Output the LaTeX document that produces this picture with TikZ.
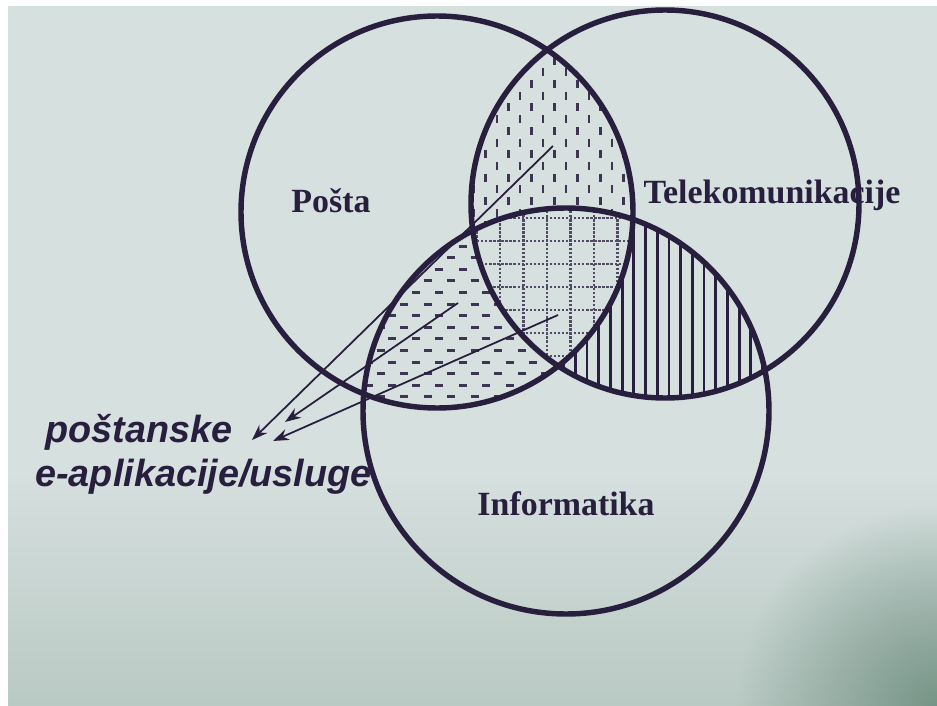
\documentclass[tikz,border=0pt]{standalone}
\usepackage{fontspec}
\setmainfont{Liberation Serif}
\setsansfont{Liberation Sans}
\usetikzlibrary{arrows.meta,fadings}
\definecolor{ink}{HTML}{281E3E}
\definecolor{paper}{HTML}{D6E0DF}
\definecolor{paperlow}{HTML}{B9C9C3}
\definecolor{paperdark}{HTML}{6A8B7C}
\tikzfading[name=darkcorner, inner color=transparent!15, outer color=transparent!100]
% the three sets
\def\posta{(437,212) circle (196)}
\def\tele{(665,204) circle (194)}
\def\info{(566,411) circle (203)}
\tikzset{
  venn/.style={draw=ink, line width=3.1pt},
  vstroke/.style={ink!90, line width=1.7pt},
  hstroke/.style={ink!90, line width=1.7pt},
  gridline/.style={ink!80, line width=1.3pt, densely dotted},
  hatch/.style={ink, line width=1.6pt},
  lbl/.style={font=\fontsize{19.3}{22}\selectfont\bfseries, text=ink, inner sep=0pt},
  note/.style={font=\fontsize{21.5}{25}\selectfont\sffamily\bfseries\itshape, text=ink, inner sep=0pt},
  pointer/.style={ink, line width=1pt, -{Stealth[length=9pt,width=6.5pt]}}
}
\begin{document}
\begin{tikzpicture}[x=0.02cm,y=-0.02cm]
    \useasboundingbox (0,0) rectangle (937,706);
    \fill[white] (0,0) rectangle (937,706);
    \fill[paper] (8,6) rectangle (937,706);
    \shade[top color=paper, bottom color=paperlow] (8,470) rectangle (937,706);
    \begin{scope}
        \clip (8,6) rectangle (937,706);
        \fill[paperdark, path fading=darkcorner] (937,706) circle (200);
    \end{scope}
    %Posta and telekomunikacije: short vertical strokes
    \begin{scope}
        \clip \posta; \clip \tele;
        \foreach \r in {0,...,16}
            \foreach \c in {0,...,9}
                \draw[vstroke] ({451+\c*23-mod(\r,2)*11.5},{45+\r*11.7}) -- ++(0,8);
    \end{scope}
    %Posta and informatika: short horizontal strokes
    \begin{scope}
        \clip \posta; \clip \info;
        \foreach \r in {0,...,15}
            \foreach \c in {0,...,10}
                \draw[hstroke] ({353+\c*23.5+mod(\r,2)*11.75},{234.5+\r*11.6}) -- ++(8,0);
    \end{scope}
    %Telekomunikacije and informatika: vertical lines
    \begin{scope}
        \clip \tele; \clip \info;
        \foreach \k in {-3,...,17}
            \draw[hatch] ({587+\k*11.7},200) -- ({587+\k*11.7},410);
    \end{scope}
    %all three: dotted grid
    \begin{scope}
        \clip \posta; \clip \tele; \clip \info;
        \fill[paper] (460,190) rectangle (660,390);
        \foreach \k in {-1,...,6}
            \draw[gridline] ({500+\k*23.5},195) -- ({500+\k*23.5},380);
        \foreach \k in {-1,...,7}
            \draw[gridline] (465,{218+\k*23}) -- (655,{218+\k*23});
    \end{scope}
    \node[lbl, anchor=base] (postaLbl) at (331,213) {Pošta};
    \node[lbl, anchor=base] (teleLbl) at (772,203) {Telekomunikacije};
    \node[lbl, anchor=base] (infoLbl) at (566,515) {Informatika};
    \node[note, anchor=base west] (postanske) at (45,442) {poštanske};
    \node[note, anchor=base west] (usluge) at (35,486) {e-aplikacije/usluge};
    \draw[venn] \posta;
    \draw[venn] \tele;
    \draw[venn] \info;
    \coordinate (ptSrc) at (553,146);
    \coordinate (piSrc) at (458,303);
    \coordinate (ptiSrc) at (558,315);
    \coordinate (ptTip) at (252,440);
    \coordinate (piTip) at (285,422);
    \coordinate (ptiTip) at (273,441);
    \draw[pointer] (ptSrc) -- (ptTip);
    \draw[pointer] (piSrc) -- (piTip);
    \draw[pointer] (ptiSrc) -- (ptiTip);
\end{tikzpicture}
\end{document}
